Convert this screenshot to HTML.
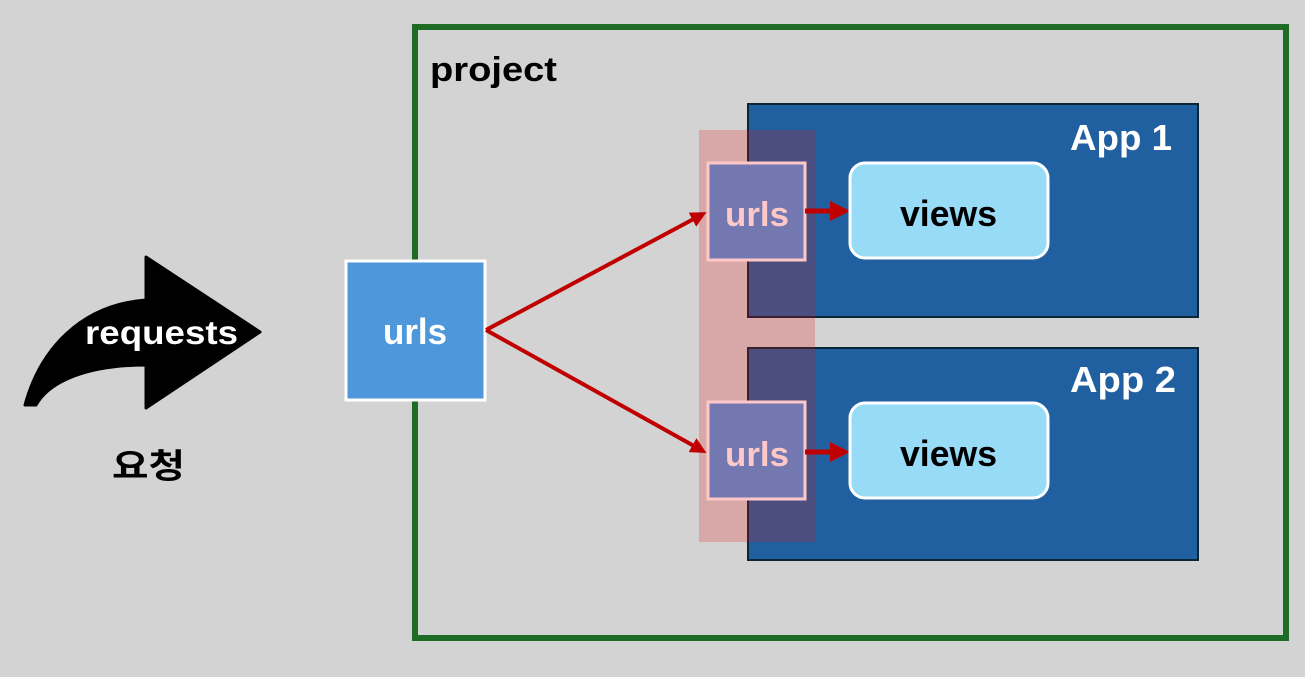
<!DOCTYPE html>
<html><head><meta charset="utf-8"><style>
html,body{margin:0;padding:0;background:#d3d3d3;}
svg{display:block;font-family:"Liberation Sans","Noto Sans CJK KR",sans-serif;font-weight:bold;}
</style></head><body>
<svg width="1305" height="677" viewBox="0 0 1305 677">
<defs>
<marker id="ah" markerWidth="4" markerHeight="4" refX="3" refY="2" orient="auto" markerUnits="strokeWidth">
<path d="M0,0 L4,2 L0,4 Z" fill="#c00000"/></marker>
</defs>
<rect width="1305" height="677" fill="#d3d3d3"/>
<rect x="415" y="27" width="871" height="611" fill="none" stroke="#1e6b26" stroke-width="6"/>
<text x="430" y="81" font-size="34" fill="#000" textLength="127" lengthAdjust="spacingAndGlyphs">project</text>
<rect x="748" y="104" width="450" height="213" fill="#2160a0" stroke="#0a2438" stroke-width="2"/>
<rect x="748" y="348" width="450" height="212" fill="#2160a0" stroke="#0a2438" stroke-width="2"/>
<text x="1070" y="150" font-size="36" fill="#fff" textLength="102" lengthAdjust="spacingAndGlyphs">App 1</text>
<text x="1070" y="392" font-size="36" fill="#fff" textLength="106" lengthAdjust="spacingAndGlyphs">App 2</text>
<rect x="699" y="130" width="116" height="412" fill="rgb(238,15,15)" fill-opacity="0.22"/>
<path d="M25,405 C40,350 80,305 146,300 L146,257 L260,332 L146,408 L146,365 C90,365 50,380 36,405 Z" fill="#000" stroke="#000" stroke-width="3" stroke-linejoin="round"/>
<text x="85" y="344" font-size="33" fill="#fff" textLength="153" lengthAdjust="spacingAndGlyphs">requests</text>
<text x="112" y="478" font-size="34" fill="#000" textLength="73" lengthAdjust="spacingAndGlyphs">요청</text>
<rect x="346" y="261" width="139" height="139" fill="#4f97db" stroke="#fff" stroke-width="3"/>
<text x="383" y="344" font-size="36" fill="#fff" textLength="64" lengthAdjust="spacingAndGlyphs">urls</text>
<line x1="486" y1="330" x2="703" y2="214" stroke="#c00000" stroke-width="4" marker-end="url(#ah)"/>
<line x1="486" y1="330" x2="703" y2="451" stroke="#c00000" stroke-width="4" marker-end="url(#ah)"/>
<rect x="708" y="163" width="97" height="97" fill="#7378b0" stroke="#ffc8c8" stroke-width="3"/>
<rect x="708" y="402" width="97" height="97" fill="#7378b0" stroke="#ffc8c8" stroke-width="3"/>
<text x="725" y="226" font-size="34" fill="#ffc8c8" textLength="64" lengthAdjust="spacingAndGlyphs">urls</text>
<text x="725" y="466" font-size="34" fill="#ffc8c8" textLength="64" lengthAdjust="spacingAndGlyphs">urls</text>
<line x1="805" y1="211" x2="845" y2="211" stroke="#c00000" stroke-width="5" marker-end="url(#ah)"/>
<line x1="805" y1="452" x2="845" y2="452" stroke="#c00000" stroke-width="5" marker-end="url(#ah)"/>
<rect x="850" y="163" width="198" height="95" rx="15" fill="#97dbf7" stroke="#fff" stroke-width="3"/>
<rect x="850" y="403" width="198" height="95" rx="15" fill="#97dbf7" stroke="#fff" stroke-width="3"/>
<text x="900" y="226" font-size="36" fill="#000" textLength="97" lengthAdjust="spacingAndGlyphs">views</text>
<text x="900" y="466" font-size="36" fill="#000" textLength="97" lengthAdjust="spacingAndGlyphs">views</text>
</svg>
</body></html>
